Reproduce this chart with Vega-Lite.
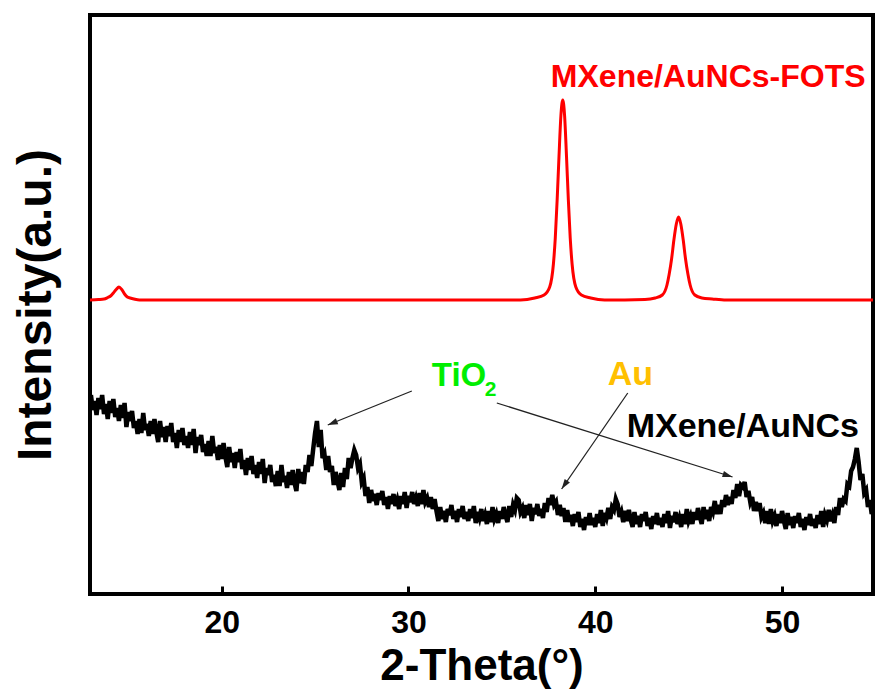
{
  "$schema": "https://vega.github.io/schema/vega-lite/v6.json",
  "width": 783,
  "height": 579,
  "autosize": {"type": "none"},
  "padding": {"left": 90, "top": 15, "right": 3, "bottom": 99},
  "background": "white",
  "config": {
    "view": {"stroke": "black", "strokeWidth": 4},
    "font": "Liberation Sans"
  },
  "datasets": {
    "fots": [
      {"x":12.95,"y":294},{"x":13.4,"y":294.5},{"x":13.7,"y":295},{"x":13.9,"y":296.5},{"x":14.05,"y":298},{"x":14.2,"y":301},{"x":14.35,"y":304.5},{"x":14.5,"y":307},{"x":14.65,"y":304.5},{"x":14.8,"y":300},{"x":14.95,"y":297},{"x":15.1,"y":296},{"x":15.3,"y":295},{"x":15.6,"y":294},{"x":20,"y":294},{"x":30,"y":294},{"x":36,"y":294},{"x":36.76,"y":296},{"x":37.26,"y":299},{"x":37.56,"y":307},{"x":37.76,"y":330},{"x":37.86,"y":356},{"x":37.96,"y":394},{"x":38.06,"y":438},{"x":38.16,"y":478},{"x":38.26,"y":494},{"x":38.36,"y":478},{"x":38.46,"y":438},{"x":38.56,"y":394},{"x":38.66,"y":356},{"x":38.76,"y":330},{"x":38.96,"y":307},{"x":39.26,"y":299},{"x":39.76,"y":296},{"x":40.5,"y":294},{"x":42.66,"y":294.5},{"x":43.21,"y":296},{"x":43.59,"y":299},{"x":43.84,"y":309},{"x":43.96,"y":320},{"x":44.09,"y":335.5},{"x":44.21,"y":354},{"x":44.34,"y":370},{"x":44.46,"y":377},{"x":44.58,"y":370},{"x":44.71,"y":354},{"x":44.83,"y":335.5},{"x":44.96,"y":320},{"x":45.08,"y":309},{"x":45.33,"y":299},{"x":45.71,"y":296},{"x":46.26,"y":295},{"x":47,"y":294},{"x":54.87,"y":294}
    ],
    "mx": [
      {"x":13.0,"y":199},{"x":13.1,"y":184},{"x":13.2,"y":193},{"x":13.3,"y":179},{"x":13.4,"y":196},{"x":13.5,"y":185},{"x":13.6,"y":199},{"x":13.7,"y":180},{"x":13.8,"y":190},{"x":13.9,"y":175},{"x":14.0,"y":193},{"x":14.1,"y":181},{"x":14.2,"y":195},{"x":14.3,"y":177},{"x":14.4,"y":186},{"x":14.5,"y":173},{"x":14.6,"y":189},{"x":14.7,"y":176},{"x":14.8,"y":191},{"x":14.9,"y":167},{"x":15.0,"y":182},{"x":15.1,"y":173},{"x":15.2,"y":183},{"x":15.3,"y":166},{"x":15.4,"y":173},{"x":15.5,"y":160},{"x":15.6,"y":175},{"x":15.7,"y":161},{"x":15.8,"y":181},{"x":15.9,"y":164},{"x":16.0,"y":170},{"x":16.1,"y":158},{"x":16.2,"y":173},{"x":16.3,"y":160},{"x":16.4,"y":175},{"x":16.5,"y":162},{"x":16.6,"y":152},{"x":16.7,"y":173},{"x":16.8,"y":157},{"x":16.9,"y":167},{"x":17.0,"y":152},{"x":17.1,"y":168},{"x":17.2,"y":158},{"x":17.3,"y":171},{"x":17.4,"y":152},{"x":17.5,"y":161},{"x":17.6,"y":146},{"x":17.7,"y":164},{"x":17.8,"y":152},{"x":17.9,"y":166},{"x":18.0,"y":149},{"x":18.1,"y":158},{"x":18.2,"y":146},{"x":18.3,"y":162},{"x":18.4,"y":149},{"x":18.5,"y":165},{"x":18.6,"y":141},{"x":18.7,"y":157},{"x":18.8,"y":149},{"x":18.9,"y":159},{"x":19.0,"y":142},{"x":19.1,"y":150},{"x":19.2,"y":138},{"x":19.3,"y":153},{"x":19.4,"y":138},{"x":19.5,"y":158},{"x":19.6,"y":141},{"x":19.7,"y":147},{"x":19.8,"y":134},{"x":19.9,"y":149},{"x":20.0,"y":135},{"x":20.1,"y":151},{"x":20.2,"y":137},{"x":20.3,"y":127},{"x":20.4,"y":147},{"x":20.5,"y":132},{"x":20.6,"y":141},{"x":20.7,"y":126},{"x":20.8,"y":142},{"x":20.9,"y":132},{"x":21.0,"y":145},{"x":21.1,"y":125},{"x":21.2,"y":134},{"x":21.3,"y":119},{"x":21.4,"y":136},{"x":21.5,"y":124},{"x":21.6,"y":138},{"x":21.7,"y":120},{"x":21.8,"y":129},{"x":21.9,"y":116},{"x":22.0,"y":132},{"x":22.1,"y":120},{"x":22.2,"y":135},{"x":22.3,"y":111},{"x":22.4,"y":126},{"x":22.5,"y":119},{"x":22.6,"y":129},{"x":22.7,"y":112},{"x":22.8,"y":119},{"x":22.9,"y":108},{"x":23.0,"y":123},{"x":23.1,"y":108},{"x":23.2,"y":129},{"x":23.3,"y":112},{"x":23.4,"y":118},{"x":23.5,"y":106},{"x":23.6,"y":122},{"x":23.7,"y":109},{"x":23.8,"y":124},{"x":23.9,"y":111},{"x":24.0,"y":103},{"x":24.1,"y":125},{"x":24.2,"y":111},{"x":24.3,"y":122},{"x":24.4,"y":110},{"x":24.5,"y":129},{"x":24.6,"y":122},{"x":24.7,"y":139},{"x":24.8,"y":128},{"x":24.9,"y":145},{"x":25.0,"y":161},{"x":25.1,"y":173},{"x":25.2,"y":147},{"x":25.3,"y":164},{"x":25.4,"y":136},{"x":25.5,"y":140},{"x":25.6,"y":124},{"x":25.7,"y":138},{"x":25.8,"y":122},{"x":25.9,"y":128},{"x":26.0,"y":109},{"x":26.1,"y":122},{"x":26.2,"y":113},{"x":26.3,"y":104},{"x":26.4,"y":121},{"x":26.5,"y":107},{"x":26.6,"y":126},{"x":26.7,"y":115},{"x":26.8,"y":136},{"x":26.9,"y":126},{"x":27.0,"y":136},{"x":27.1,"y":144},{"x":27.2,"y":139},{"x":27.3,"y":126},{"x":27.4,"y":130},{"x":27.5,"y":112},{"x":27.6,"y":116},{"x":27.7,"y":98},{"x":27.8,"y":107},{"x":27.9,"y":91},{"x":28.0,"y":104},{"x":28.1,"y":93},{"x":28.2,"y":100},{"x":28.3,"y":89},{"x":28.4,"y":101},{"x":28.5,"y":94},{"x":28.6,"y":103},{"x":28.7,"y":89},{"x":28.8,"y":97},{"x":28.9,"y":85},{"x":29.0,"y":98},{"x":29.1,"y":90},{"x":29.2,"y":100},{"x":29.3,"y":88},{"x":29.4,"y":94},{"x":29.5,"y":85},{"x":29.6,"y":98},{"x":29.7,"y":90},{"x":29.8,"y":102},{"x":29.9,"y":86},{"x":30.0,"y":98},{"x":30.1,"y":92},{"x":30.2,"y":102},{"x":30.3,"y":90},{"x":30.4,"y":96},{"x":30.5,"y":88},{"x":30.6,"y":101},{"x":30.7,"y":90},{"x":30.8,"y":104},{"x":30.9,"y":92},{"x":31.0,"y":96},{"x":31.1,"y":87},{"x":31.2,"y":97},{"x":31.3,"y":85},{"x":31.4,"y":95},{"x":31.5,"y":83},{"x":31.6,"y":73},{"x":31.7,"y":87},{"x":31.8,"y":75},{"x":31.9,"y":83},{"x":32.0,"y":72},{"x":32.1,"y":85},{"x":32.2,"y":79},{"x":32.3,"y":89},{"x":32.4,"y":75},{"x":32.5,"y":83},{"x":32.6,"y":72},{"x":32.7,"y":85},{"x":32.8,"y":77},{"x":32.9,"y":88},{"x":33.0,"y":75},{"x":33.1,"y":82},{"x":33.2,"y":73},{"x":33.3,"y":85},{"x":33.4,"y":76},{"x":33.5,"y":88},{"x":33.6,"y":71},{"x":33.7,"y":82},{"x":33.8,"y":76},{"x":33.9,"y":85},{"x":34.0,"y":73},{"x":34.1,"y":79},{"x":34.2,"y":70},{"x":34.3,"y":83},{"x":34.4,"y":72},{"x":34.5,"y":87},{"x":34.6,"y":75},{"x":34.7,"y":80},{"x":34.8,"y":71},{"x":34.9,"y":83},{"x":35.0,"y":75},{"x":35.1,"y":87},{"x":35.2,"y":78},{"x":35.3,"y":72},{"x":35.4,"y":88},{"x":35.5,"y":77},{"x":35.6,"y":89},{"x":35.7,"y":84},{"x":35.8,"y":96},{"x":35.9,"y":94},{"x":36.0,"y":82},{"x":36.1,"y":86},{"x":36.2,"y":76},{"x":36.3,"y":89},{"x":36.4,"y":79},{"x":36.5,"y":90},{"x":36.6,"y":73},{"x":36.7,"y":86},{"x":36.8,"y":80},{"x":36.9,"y":90},{"x":37.0,"y":78},{"x":37.1,"y":85},{"x":37.2,"y":76},{"x":37.3,"y":91},{"x":37.4,"y":82},{"x":37.5,"y":96},{"x":37.6,"y":89},{"x":37.7,"y":99},{"x":37.8,"y":89},{"x":37.9,"y":92},{"x":38.0,"y":79},{"x":38.1,"y":89},{"x":38.2,"y":78},{"x":38.3,"y":86},{"x":38.4,"y":72},{"x":38.5,"y":84},{"x":38.6,"y":72},{"x":38.7,"y":79},{"x":38.8,"y":68},{"x":38.9,"y":80},{"x":39.0,"y":72},{"x":39.1,"y":82},{"x":39.2,"y":67},{"x":39.3,"y":75},{"x":39.4,"y":64},{"x":39.5,"y":77},{"x":39.6,"y":69},{"x":39.7,"y":81},{"x":39.8,"y":69},{"x":39.9,"y":76},{"x":40.0,"y":67},{"x":40.1,"y":80},{"x":40.2,"y":71},{"x":40.3,"y":84},{"x":40.4,"y":68},{"x":40.5,"y":81},{"x":40.6,"y":76},{"x":40.7,"y":86},{"x":40.8,"y":75},{"x":40.9,"y":87},{"x":41.0,"y":84},{"x":41.1,"y":95},{"x":41.2,"y":90},{"x":41.3,"y":77},{"x":41.4,"y":82},{"x":41.5,"y":72},{"x":41.6,"y":83},{"x":41.7,"y":73},{"x":41.8,"y":84},{"x":41.9,"y":74},{"x":42.0,"y":67},{"x":42.1,"y":82},{"x":42.2,"y":70},{"x":42.3,"y":78},{"x":42.4,"y":67},{"x":42.5,"y":80},{"x":42.6,"y":73},{"x":42.7,"y":82},{"x":42.8,"y":68},{"x":42.9,"y":76},{"x":43.0,"y":65},{"x":43.1,"y":78},{"x":43.2,"y":70},{"x":43.3,"y":81},{"x":43.4,"y":69},{"x":43.5,"y":76},{"x":43.6,"y":67},{"x":43.7,"y":80},{"x":43.8,"y":71},{"x":43.9,"y":83},{"x":44.0,"y":66},{"x":44.1,"y":78},{"x":44.2,"y":72},{"x":44.3,"y":82},{"x":44.4,"y":70},{"x":44.5,"y":76},{"x":44.6,"y":67},{"x":44.7,"y":80},{"x":44.8,"y":70},{"x":44.9,"y":85},{"x":45.0,"y":73},{"x":45.1,"y":78},{"x":45.2,"y":70},{"x":45.3,"y":82},{"x":45.4,"y":74},{"x":45.5,"y":86},{"x":45.6,"y":77},{"x":45.7,"y":70},{"x":45.8,"y":87},{"x":45.9,"y":75},{"x":46.0,"y":84},{"x":46.1,"y":73},{"x":46.2,"y":87},{"x":46.3,"y":82},{"x":46.4,"y":93},{"x":46.5,"y":80},{"x":46.6,"y":89},{"x":46.7,"y":80},{"x":46.8,"y":94},{"x":46.9,"y":87},{"x":47.0,"y":99},{"x":47.1,"y":89},{"x":47.2,"y":97},{"x":47.3,"y":90},{"x":47.4,"y":104},{"x":47.5,"y":96},{"x":47.6,"y":110},{"x":47.7,"y":98},{"x":47.8,"y":109},{"x":47.9,"y":107},{"x":48.0,"y":112},{"x":48.1,"y":97},{"x":48.2,"y":103},{"x":48.3,"y":92},{"x":48.4,"y":97},{"x":48.5,"y":83},{"x":48.6,"y":92},{"x":48.7,"y":83},{"x":48.8,"y":91},{"x":48.9,"y":77},{"x":49.0,"y":81},{"x":49.1,"y":71},{"x":49.2,"y":83},{"x":49.3,"y":70},{"x":49.4,"y":85},{"x":49.5,"y":73},{"x":49.6,"y":78},{"x":49.7,"y":68},{"x":49.8,"y":80},{"x":49.9,"y":71},{"x":50.0,"y":83},{"x":50.1,"y":73},{"x":50.2,"y":65},{"x":50.3,"y":81},{"x":50.4,"y":69},{"x":50.5,"y":77},{"x":50.6,"y":66},{"x":50.7,"y":78},{"x":50.8,"y":71},{"x":50.9,"y":81},{"x":51.0,"y":67},{"x":51.1,"y":75},{"x":51.2,"y":64},{"x":51.3,"y":77},{"x":51.4,"y":69},{"x":51.5,"y":80},{"x":51.6,"y":68},{"x":51.7,"y":75},{"x":51.8,"y":66},{"x":51.9,"y":79},{"x":52.0,"y":70},{"x":52.1,"y":83},{"x":52.2,"y":67},{"x":52.3,"y":79},{"x":52.4,"y":74},{"x":52.5,"y":84},{"x":52.6,"y":73},{"x":52.7,"y":79},{"x":52.8,"y":71},{"x":52.9,"y":87},{"x":53.0,"y":79},{"x":53.1,"y":96},{"x":53.2,"y":87},{"x":53.3,"y":95},{"x":53.4,"y":93},{"x":53.5,"y":110},{"x":53.6,"y":108},{"x":53.7,"y":123},{"x":53.8,"y":127},{"x":53.9,"y":135},{"x":54.0,"y":146},{"x":54.1,"y":132},{"x":54.2,"y":114},{"x":54.3,"y":120},{"x":54.4,"y":101},{"x":54.5,"y":104},{"x":54.6,"y":87},{"x":54.7,"y":94},{"x":54.8,"y":80},{"x":54.87,"y":84}
    ],
    "arrows": [
      {"id": "a1", "x": 30.18, "y": 203, "x2": 25.68, "y2": 169},
      {"id": "a2", "x": 34.73, "y": 191, "x2": 47.35, "y2": 117},
      {"id": "a3", "x": 41.74, "y": 201, "x2": 38.2, "y2": 105}
    ],
    "labels": [
      {"kind": "fots", "x": 54.47, "y": 507, "text": "MXene/AuNCs-FOTS"},
      {"kind": "mx", "x": 41.68, "y": 157, "text": "MXene/AuNCs"},
      {"kind": "tio", "x": 31.25, "y": 208, "text": "TiO"},
      {"kind": "sub", "x": 34.08, "y": 198, "text": "2"},
      {"kind": "au", "x": 40.67, "y": 209, "text": "Au"}
    ]
  },
  "encoding": {
    "x": {
      "field": "x", "type": "quantitative",
      "scale": {"domain": [12.95, 54.87], "nice": false, "zero": false},
      "axis": {
        "values": [20, 30, 40, 50],
        "tickSize": -8, "tickWidth": 3, "tickColor": "black",
        "domain": false, "grid": false,
        "labelFont": "Liberation Sans", "labelFontWeight": "bold", "labelFontSize": 32, "labelColor": "black",
        "labelPadding": 21,
        "title": "2-Theta(°)",
        "titleFont": "Liberation Sans", "titleFontWeight": "bold", "titleFontSize": 44, "titleColor": "black",
        "titleBaseline": "alphabetic", "titleY": 85
      }
    },
    "y": {
      "field": "y", "type": "quantitative",
      "scale": {"domain": [0, 579], "nice": false, "zero": false},
      "axis": {
        "labels": false, "ticks": false, "domain": false, "grid": false,
        "title": "Intensity(a.u.)",
        "titleFont": "Liberation Sans", "titleFontWeight": "bold", "titleFontSize": 48, "titleColor": "black",
        "titleAngle": -90, "titleBaseline": "alphabetic", "titleX": -40, "titleY": 289.5, "titleAlign": "center"
      }
    }
  },
  "layer": [
    {
      "data": {"name": "fots"},
      "mark": {"type": "line", "color": "#ff0000", "strokeWidth": 3, "interpolate": "monotone"}
    },
    {
      "data": {"name": "mx"},
      "mark": {"type": "line", "color": "black", "strokeWidth": 4.5}
    },
    {
      "data": {"name": "arrows"},
      "mark": {"type": "rule", "color": "#222222", "strokeWidth": 1.3},
      "encoding": {"x2": {"field": "x2"}, "y2": {"field": "y2"}}
    },
    {
      "data": {"name": "arrows"},
      "transform": [{"filter": "datum.id === 'a1'"}],
      "mark": {"type": "point", "shape": "M0,0L-0.32,1L0.32,1Z", "size": 400, "filled": true, "color": "#222222", "opacity": 1, "angle": 248},
      "encoding": {"x": {"field": "x2", "type": "quantitative"}, "y": {"field": "y2", "type": "quantitative"}}
    },
    {
      "data": {"name": "arrows"},
      "transform": [{"filter": "datum.id === 'a2'"}],
      "mark": {"type": "point", "shape": "M0,0L-0.32,1L0.32,1Z", "size": 400, "filled": true, "color": "#222222", "opacity": 1, "angle": 107.5},
      "encoding": {"x": {"field": "x2", "type": "quantitative"}, "y": {"field": "y2", "type": "quantitative"}}
    },
    {
      "data": {"name": "arrows"},
      "transform": [{"filter": "datum.id === 'a3'"}],
      "mark": {"type": "point", "shape": "M0,0L-0.32,1L0.32,1Z", "size": 400, "filled": true, "color": "#222222", "opacity": 1, "angle": 214.5},
      "encoding": {"x": {"field": "x2", "type": "quantitative"}, "y": {"field": "y2", "type": "quantitative"}}
    },
    {
      "data": {"name": "labels"},
      "transform": [{"filter": "datum.kind === 'fots'"}],
      "mark": {"type": "text", "font": "Liberation Sans", "fontWeight": "bold", "fontSize": 32, "color": "#ff0000", "align": "right", "baseline": "alphabetic"},
      "encoding": {"text": {"field": "text"}}
    },
    {
      "data": {"name": "labels"},
      "transform": [{"filter": "datum.kind === 'mx'"}],
      "mark": {"type": "text", "font": "Liberation Sans", "fontWeight": "bold", "fontSize": 34, "color": "black", "align": "left", "baseline": "alphabetic"},
      "encoding": {"text": {"field": "text"}}
    },
    {
      "data": {"name": "labels"},
      "transform": [{"filter": "datum.kind === 'tio'"}],
      "mark": {"type": "text", "font": "Liberation Sans", "fontWeight": "bold", "fontSize": 33, "color": "#00ee00", "align": "left", "baseline": "alphabetic"},
      "encoding": {"text": {"field": "text"}}
    },
    {
      "data": {"name": "labels"},
      "transform": [{"filter": "datum.kind === 'sub'"}],
      "mark": {"type": "text", "font": "Liberation Sans", "fontWeight": "bold", "fontSize": 21, "color": "#00ee00", "align": "left", "baseline": "alphabetic"},
      "encoding": {"text": {"field": "text"}}
    },
    {
      "data": {"name": "labels"},
      "transform": [{"filter": "datum.kind === 'au'"}],
      "mark": {"type": "text", "font": "Liberation Sans", "fontWeight": "bold", "fontSize": 34, "color": "#ffc000", "align": "left", "baseline": "alphabetic"},
      "encoding": {"text": {"field": "text"}}
    }
  ]
}
